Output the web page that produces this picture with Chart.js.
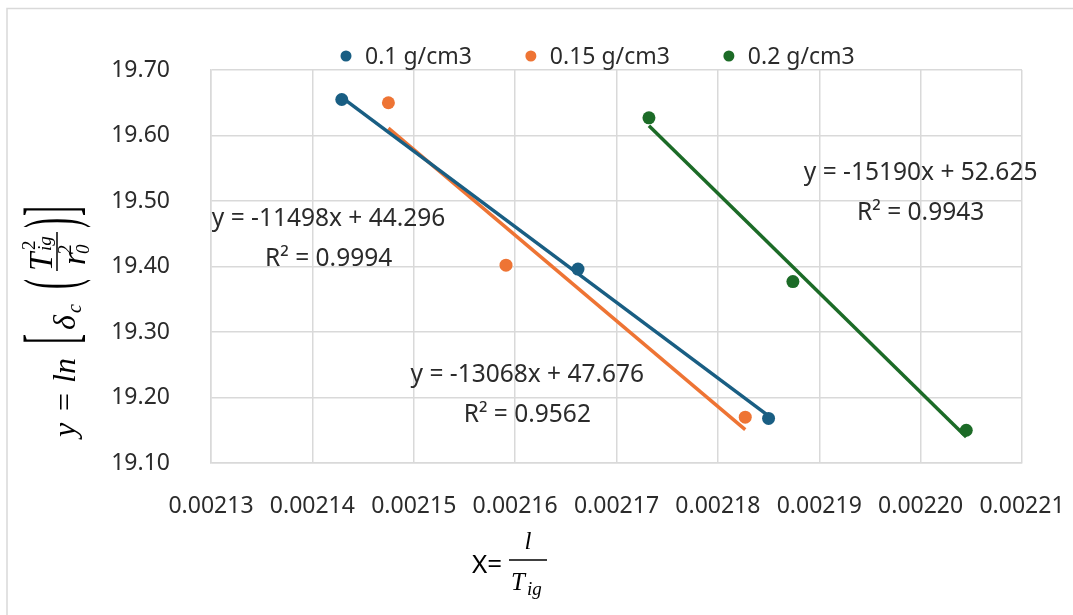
<!DOCTYPE html>
<html><head><meta charset="utf-8">
<script src="https://cdn.jsdelivr.net/npm/chart.js@4.4.1/dist/chart.umd.min.js"></script>
<style>html,body{margin:0;padding:0;background:#fff;}#wrap{width:1073px;height:615px;}</style>
</head><body><div id="wrap"><canvas id="c" width="1073" height="615"></canvas></div>
<script>
// ---- data ----
const seriesLabels = ['0.1 g/cm3', '0.15 g/cm3', '0.2 g/cm3'];
const xBlue   = [0.0021429, 0.0021662, 0.0021850];
const yBlue   = [19.655, 19.396, 19.168];
const xOrange = [0.0021475, 0.0021591, 0.0021827];
const yOrange = [19.650, 19.402, 19.170];
const xGreen  = [0.0021732, 0.0021874, 0.0022045];
const yGreen  = [19.627, 19.377, 19.150];
const equationTexts = ['y = -11498x + 44.296', 'y = -13068x + 47.676', 'y = -15190x + 52.625'];
const r2Texts = ['R² = 0.9994', 'R² = 0.9562', 'R² = 0.9943'];
const xTickValues = [0.00213, 0.00214, 0.00215, 0.00216, 0.00217, 0.00218, 0.00219, 0.00220, 0.00221];
const yTickValues = [19.10, 19.20, 19.30, 19.40, 19.50, 19.60, 19.70];

// ---- styles ----
const colors = ['#195e83', '#ee7434', '#1c6b27'];
const TXT = '#2b2b2b';
const GRID = '#d9d9d9';
const FONT = '"Noto Sans", "Open Sans", sans-serif';

function fit(xs, ys) {
  const n = xs.length;
  const mx = xs.reduce((a, b) => a + b, 0) / n, my = ys.reduce((a, b) => a + b, 0) / n;
  let sxy = 0, sxx = 0;
  for (let i = 0; i < n; i++) { sxy += (xs[i] - mx) * (ys[i] - my); sxx += (xs[i] - mx) ** 2; }
  const m = sxy / sxx, b = my - m * mx;
  const x0 = Math.min(...xs), x1 = Math.max(...xs);
  return [{x: x0, y: m * x0 + b}, {x: x1, y: m * x1 + b}];
}
const series = [[xBlue, yBlue], [xOrange, yOrange], [xGreen, yGreen]];
const datasets = [];
series.forEach((s, i) => {
  datasets.push({
    type: 'scatter', label: seriesLabels[i],
    data: s[0].map((x, j) => ({x, y: s[1][j]})),
    backgroundColor: colors[i], borderColor: colors[i],
    pointRadius: 6.5, pointBorderWidth: 0, pointHoverRadius: 6.5, order: 1
  });
});
series.forEach((s, i) => {
  datasets.push({
    type: 'line', label: 'trend ' + seriesLabels[i], isTrend: true,
    data: fit(s[0], s[1]),
    borderColor: colors[i], borderWidth: 3.5, pointRadius: 0, fill: false, order: 2
  });
});

// label anchors in data coordinates (centre of text)
const labelAnchors = [
  {x: 0.0021416, eqY: 19.4725, r2Y: 19.4115},
  {x: 0.0021612, eqY: 19.2344, r2Y: 19.1733},
  {x: 0.0022000, eqY: 19.5427, r2Y: 19.4817}
];

const decor = {
  id: 'decor',
  beforeDraw(chart) {
    const ctx = chart.ctx;
    ctx.save();
    ctx.strokeStyle = GRID; ctx.lineWidth = 1.5;
    ctx.beginPath();
    ctx.moveTo(7, 615); ctx.lineTo(7, 8.5); ctx.lineTo(1073, 8.5);
    ctx.stroke();
    ctx.restore();
  },
  afterDraw(chart) {
    const ctx = chart.ctx, xs = chart.scales.x, ys = chart.scales.y;
    ctx.save();
    // trendline labels
    ctx.fillStyle = TXT; ctx.font = '24.5px ' + FONT;
    ctx.textAlign = 'center'; ctx.textBaseline = 'middle';
    labelAnchors.forEach((a, i) => {
      const px = xs.getPixelForValue(a.x);
      ctx.fillText(equationTexts[i], px, ys.getPixelForValue(a.eqY));
      ctx.fillText(r2Texts[i], px, ys.getPixelForValue(a.r2Y));
    });
    // legend
    ctx.font = '23px ' + FONT;
    ctx.textAlign = 'left';
    let lx = 346;
    const ly = 56;
    chart.data.datasets.filter(d => !d.isTrend).forEach((d, i) => {
      ctx.fillStyle = d.backgroundColor;
      ctx.beginPath(); ctx.arc(lx, ly, 5.5, 0, Math.PI * 2); ctx.fill();
      ctx.fillStyle = TXT;
      ctx.fillText(d.label, lx + 19, ly + 1);
      lx += 19 + ctx.measureText(d.label).width + 59;
    });
    // x-axis title: X= l / Tig
    ctx.fillStyle = '#000';
    ctx.textBaseline = 'alphabetic';
    ctx.font = '26px ' + FONT;
    ctx.fillText('X=', 472, 573);
    ctx.strokeStyle = '#000'; ctx.lineWidth = 1.5;
    ctx.beginPath(); ctx.moveTo(509, 560); ctx.lineTo(547, 560); ctx.stroke();
    ctx.font = 'italic 25px "Liberation Serif", serif';
    ctx.textAlign = 'center';
    ctx.fillText('l', 528, 549);
    ctx.textAlign = 'left';
    ctx.fillText('T', 511, 590);
    ctx.font = 'italic 19px "Liberation Serif", serif';
    ctx.fillText('ig', 527, 595);

    // y-axis title: y = ln[δc (T²ig / r²0)]
    ctx.translate(75, 437);
    ctx.rotate(-Math.PI / 2);
    const it = s => 'italic ' + s + 'px "Liberation Serif", serif';
    const up = s => s + 'px "Liberation Serif", serif';
    const T = (t, x, y, f) => { ctx.font = f; ctx.fillText(t, x, y); };
    T('y', 0, 0, it(32));
    T('=', 26, 0, up(32));
    T('ln', 54, 0, it(32));
    const delim = (t, x, sy) => { ctx.save(); ctx.translate(x, 0); ctx.scale(1, sy); ctx.font = up(30); ctx.fillText(t, 0, 0); ctx.restore(); };
    delim('[', 93, 2.5);
    T('δ', 107, 0, it(32));
    T('c', 124, 6, it(20));
    delim('(', 148, 2.45);
    T('T', 166, -23, it(33));
    T('2', 187, -40, up(19));
    T('ig', 186, -24, it(19));
    ctx.lineWidth = 1.5;
    ctx.beginPath(); ctx.moveTo(166, -18); ctx.lineTo(205, -18); ctx.stroke();
    T('r', 172, 10, it(33));
    T('2', 183, -4, up(19));
    T('0', 183, 14, it(19));
    delim(')', 209, 2.45);
    delim(']', 221, 2.5);
    ctx.restore();
  }
};

new Chart(document.getElementById('c'), {
  data: {datasets},
  options: {
    responsive: false, animation: false,
    layout: {padding: {top: 70, right: 51, left: 0, bottom: 0}},
    plugins: {legend: {display: false}, tooltip: {enabled: false}, title: {display: false}},
    scales: {
      x: {
        type: 'linear', min: 0.00213, max: 0.00221,
        afterBuildTicks: s => { s.ticks = xTickValues.map(v => ({value: v})); },
        afterFit: s => { s.height = 152; s.paddingLeft = 0; s.paddingRight = 0; },
        grid: {color: GRID, lineWidth: 1.5, drawTicks: false},
        border: {color: GRID, width: 1.5},
        ticks: {color: TXT, font: {family: FONT, size: 23}, padding: 30, maxRotation: 0,
                callback: v => Number(v).toFixed(5)}
      },
      y: {
        type: 'linear', min: 19.10, max: 19.70,
        afterBuildTicks: s => { s.ticks = yTickValues.map(v => ({value: v})); },
        afterFit: s => { s.width = 211; s.paddingTop = 0; s.paddingBottom = 0; },
        grid: {color: GRID, lineWidth: 1.5, drawTicks: false},
        border: {color: GRID, width: 1.5},
        ticks: {color: TXT, font: {family: FONT, size: 23}, padding: 41,
                callback: v => Number(v).toFixed(2)}
      }
    }
  },
  plugins: [decor]
});
</script></body></html>
